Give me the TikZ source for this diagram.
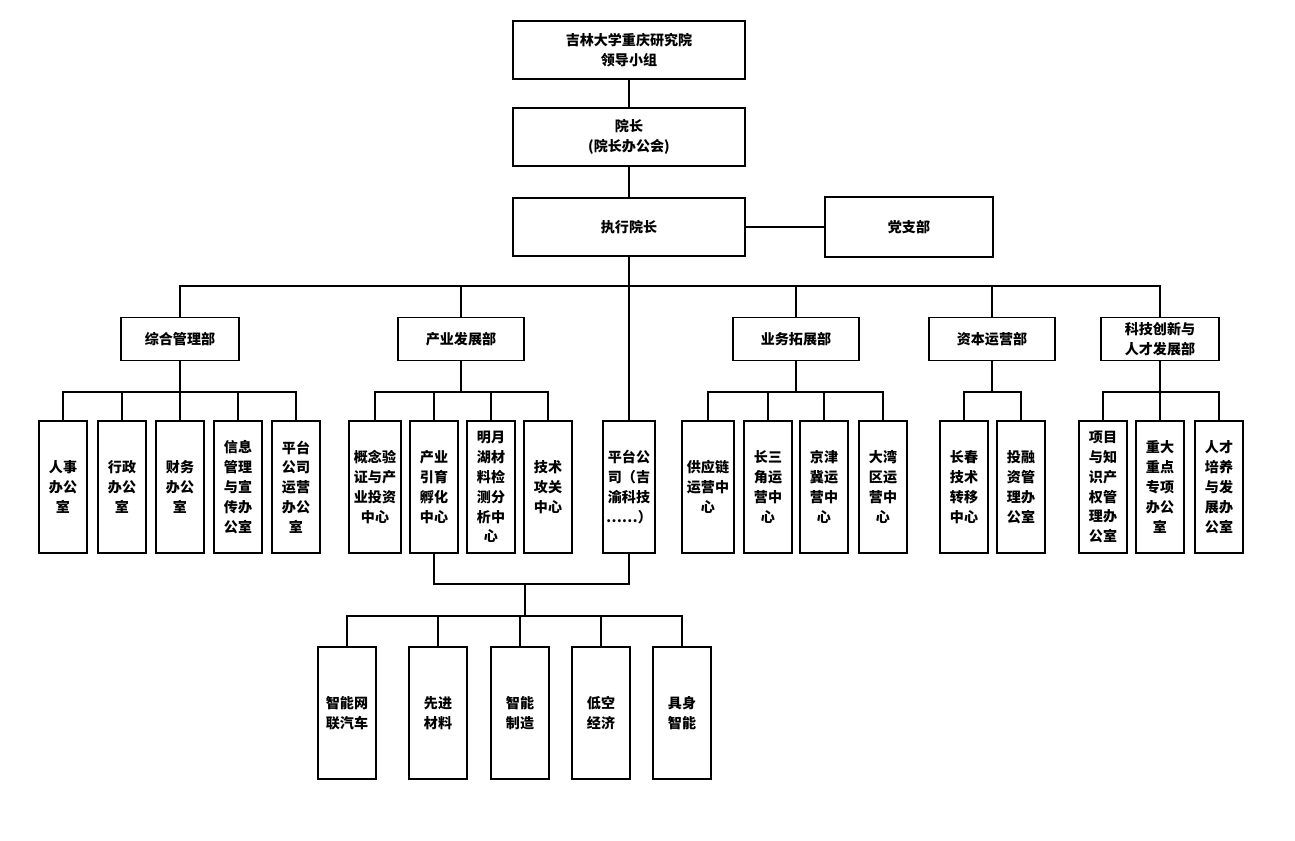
\documentclass[tikz,border=0pt]{standalone}
\usepackage{fontspec}
\setmainfont{Noto Sans CJK SC}
\usepackage{tikz}

\begin{document}
\begin{tikzpicture}[x=0.02cm,y=-0.02cm,
    box/.style={draw,line width=1.1pt,align=center,inner sep=0pt,
        font=\fontsize{8pt}{11.3pt}\selectfont\bfseries},
    head/.style={box,minimum width=4.64cm,minimum height=1.16cm},
    dept/.style={box,minimum width=2.52cm,minimum height=0.86cm},
    unit/.style={box,minimum width=0.96cm,minimum height=2.64cm},
    field/.style={box,minimum width=1.16cm,minimum height=2.64cm},
    link/.style={line width=1.1pt}]
    \useasboundingbox (0,0) rectangle (1295,840);
    \fill[white] (0,0) rectangle (1295,840);

    \node[head] (lead) at (629,50) {吉林大学重庆研究院\\领导小组};
    \node[head] (dean) at (629,137) {院长\\(院长办公会)};
    \node[head] (exec) at (629,227) {执行院长};
    \node[box,minimum width=3.36cm,minimum height=1.2cm] (party) at (909,227) {党支部};

    \node[dept,minimum width=2.36cm] (zh) at (180,339) {综合管理部};
    \node[dept] (cy) at (461,339) {产业发展部};
    \node[dept] (yw) at (796,339) {业务拓展部};
    \node[dept] (zb) at (992,339) {资本运营部};
    \node[dept,minimum width=2.36cm] (kj) at (1160,339) {科技创新与\\人才发展部};

    \node[unit] (zh1) at (63,487) {人事\\办公\\室};
    \node[unit] (zh2) at (122,487) {行政\\办公\\室};
    \node[unit] (zh3) at (180,487) {财务\\办公\\室};
    \node[unit] (zh4) at (238,487) {信息\\管理\\与宣\\传办\\公室};
    \node[unit] (zh5) at (296,487) {平台\\公司\\运营\\办公\\室};

    \node[unit,minimum width=1.04cm] (cy1) at (375,487) {概念验\\证与产\\业投资\\中心};
    \node[unit] (cy2) at (434,487) {产业\\引育\\孵化\\中心};
    \node[unit] (cy3) at (491,487) {明月\\湖材\\料检\\测分\\析中\\心};
    \node[unit] (cy4) at (548,487) {技术\\攻关\\中心};
    \node[unit,minimum width=1.04cm] (pt) at (629,487) {平台公\\司（吉\\渝科技\\……）};

    \node[unit,minimum width=1.04cm] (yw1) at (708,487) {供应链\\运营中\\心};
    \node[unit] (yw2) at (768,487) {长三\\角运\\营中\\心};
    \node[unit] (yw3) at (824,487) {京津\\冀运\\营中\\心};
    \node[unit] (yw4) at (883,487) {大湾\\区运\\营中\\心};

    \node[unit] (zb1) at (964,487) {长春\\技术\\转移\\中心};
    \node[unit] (zb2) at (1021,487) {投融\\资管\\理办\\公室};

    \node[unit] (kj1) at (1103,487) {项目\\与知\\识产\\权管\\理办\\公室};
    \node[unit] (kj2) at (1160,487) {重大\\重点\\专项\\办公\\室};
    \node[unit] (kj3) at (1219,487) {人才\\培养\\与发\\展办\\公室};

    \node[field] (f1) at (347,713) {智能网\\联汽车};
    \node[field] (f2) at (438,713) {先进\\材料};
    \node[field] (f3) at (520,713) {智能\\制造};
    \node[field] (f4) at (601,713) {低空\\经济};
    \node[field] (f5) at (682,713) {具身\\智能};

    \coordinate (topbus) at (629,286);
    \coordinate (zhbus) at (180,392);
    \coordinate (cybus) at (461,392);
    \coordinate (ywbus) at (796,392);
    \coordinate (zbbus) at (992,392);
    \coordinate (kjbus) at (1160,392);
    \coordinate (join) at (525,584);
    \coordinate (fbus) at (525,616);

    \draw[link] (lead) -- (dean);
    \draw[link] (dean) -- (exec);
    \draw[link] (exec) -- (party);
    \draw[link] (exec) -- (pt);
    \foreach \d in {zh,cy,yw,zb,kj}
        \draw[link] (topbus) -| (\d);

    \draw[link] (zh) -- (zhbus);
    \foreach \u in {zh1,zh2,zh3,zh4,zh5}
        \draw[link] (zhbus) -| (\u);
    \draw[link] (cy) -- (cybus);
    \foreach \u in {cy1,cy2,cy3,cy4}
        \draw[link] (cybus) -| (\u);
    \draw[link] (yw) -- (ywbus);
    \foreach \u in {yw1,yw2,yw3,yw4}
        \draw[link] (ywbus) -| (\u);
    \draw[link] (zb) -- (zbbus);
    \foreach \u in {zb1,zb2}
        \draw[link] (zbbus) -| (\u);
    \draw[link] (kj) -- (kjbus);
    \foreach \u in {kj1,kj2,kj3}
        \draw[link] (kjbus) -| (\u);

    \draw[link] (cy2) |- (join);
    \draw[link] (pt) |- (join);
    \draw[link] (join) -- (fbus);
    \foreach \f in {f1,f2,f3,f4,f5}
        \draw[link] (fbus) -| (\f);
\end{tikzpicture}
\end{document}
